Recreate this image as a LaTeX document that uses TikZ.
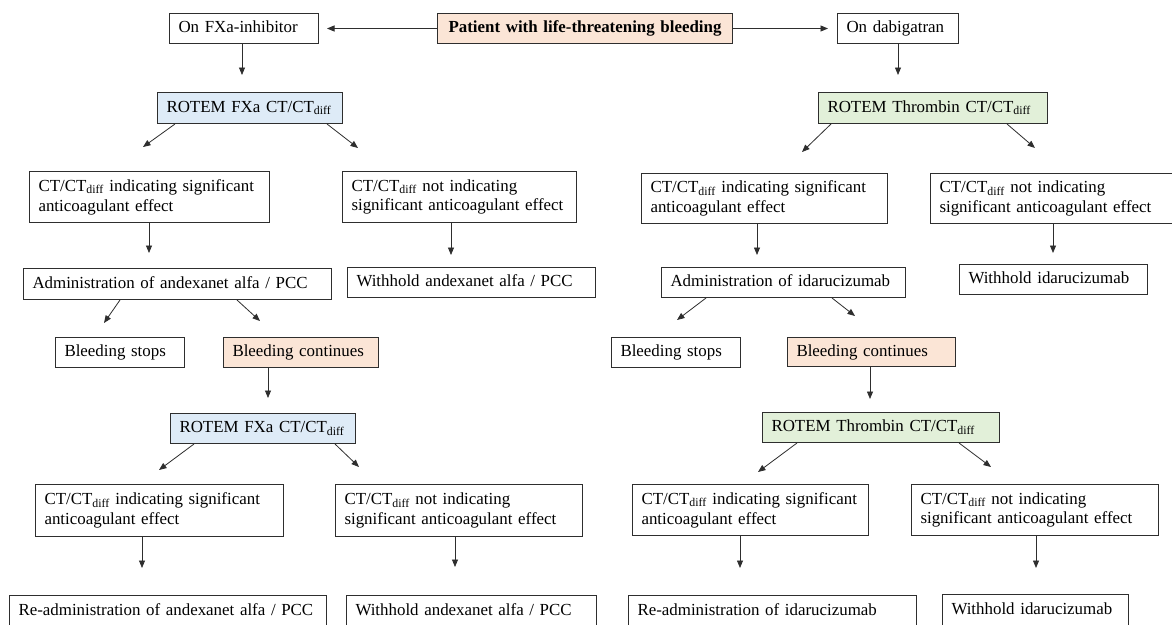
\documentclass[tikz,border=0pt]{standalone}
\usepackage{fontspec}
\setmainfont{Liberation Serif}
\usetikzlibrary{arrows.meta,calc}
\definecolor{peach}{HTML}{FBE5D6}
\definecolor{lblue}{HTML}{DEEBF7}
\definecolor{lgreen}{HTML}{E2F0D9}
\definecolor{edgec}{HTML}{2E2E2E}
\newcommand{\ctd}{CT/CT\textsubscript{diff}}
\begin{document}
\begin{tikzpicture}[x=1pt,y=-1pt,
  box/.style={draw=edgec, line width=1pt, anchor=north west, inner xsep=9pt, inner ysep=1pt, align=left, font=\fontsize{16.9}{19.8}\selectfont},
  one/.style={box, text height=12.5pt, text depth=4pt},
  two/.style={box},
  arr/.style={draw=edgec, line width=0.8pt, -{Triangle[length=7.5pt,width=6pt]}},
]
\path[fill=white] (0,0) rectangle (1172,624);
\clip (0,0) rectangle (1172,624);

% row 1
\node[one, fill=peach, text width=277pt, minimum height=30pt, align=center, font=\fontsize{16.9}{19.8}\selectfont\bfseries] (pat) at (437,13) {\mbox{Patient with life-threatening bleeding}};
\node[one, text width=131pt, minimum height=30pt] (onfxa) at (169,13) {\mbox{On FXa-inhibitor}};
\node[one, text width=103pt, minimum height=30pt] (ondab) at (837,13) {\mbox{On dabigatran}};

% row 2
\node[one, fill=lblue, text width=167pt, minimum height=31pt] (rf1) at (157,92) {\mbox{ROTEM FXa \ctd}};
\node[one, fill=lgreen, text width=211pt, minimum height=31pt] (rt1) at (818,92) {\mbox{ROTEM Thrombin \ctd}};

% row 3
\node[two, text width=222pt, minimum height=51pt] (li1) at (29,171) {\mbox{\ctd{} indicating significant}\\\mbox{anticoagulant effect}};
\node[two, text width=216pt, minimum height=51pt] (ln1) at (342,171) {\mbox{\ctd{} not indicating}\\\mbox{significant anticoagulant effect}};
\node[two, text width=228pt, minimum height=50pt] (ri1) at (641,173) {\mbox{\ctd{} indicating significant}\\\mbox{anticoagulant effect}};
\node[two, text width=223.5pt, minimum height=50pt] (rn1) at (930,173) {\mbox{\ctd{} not indicating}\\\mbox{significant anticoagulant effect}};

% row 4
\node[one, text width=290pt, minimum height=31pt] (la1) at (23,268) {\mbox{Administration of andexanet alfa / PCC}};
\node[one, text width=230pt, minimum height=30pt] (lw1) at (347,267) {\mbox{Withhold andexanet alfa / PCC}};
\node[one, text width=226pt, minimum height=30pt] (ra1) at (661,267) {\mbox{Administration of idarucizumab}};
\node[one, text width=170pt, minimum height=30pt] (rw1) at (959,264) {\mbox{Withhold idarucizumab}};

% row 5
\node[one, text width=111pt, minimum height=30pt] (lbs) at (55,337) {\mbox{Bleeding stops}};
\node[one, fill=peach, text width=137pt, minimum height=30pt] (lbc) at (223,337) {\mbox{Bleeding continues}};
\node[one, text width=111pt, minimum height=30pt] (rbs) at (611,337) {\mbox{Bleeding stops}};
\node[one, fill=peach, text width=150pt, minimum height=29pt] (rbc) at (787,337) {\mbox{Bleeding continues}};

% row 6
\node[one, fill=lblue, text width=167pt, minimum height=30pt] (rf2) at (170,413) {\mbox{ROTEM FXa \ctd}};
\node[one, fill=lgreen, text width=219pt, minimum height=30pt] (rt2) at (762,412) {\mbox{ROTEM Thrombin \ctd}};

% row 7
\node[two, text width=230pt, minimum height=52pt] (li2) at (35,484) {\mbox{\ctd{} indicating significant}\\\mbox{anticoagulant effect}};
\node[two, text width=229pt, minimum height=52pt] (ln2) at (335,484) {\mbox{\ctd{} not indicating}\\\mbox{significant anticoagulant effect}};
\node[two, text width=218pt, minimum height=51pt] (ri2) at (632,484) {\mbox{\ctd{} indicating significant}\\\mbox{anticoagulant effect}};
\node[two, text width=229pt, minimum height=51pt] (rn2) at (911,484) {\mbox{\ctd{} not indicating}\\\mbox{significant anticoagulant effect}};

% row 8 (cut by the lower edge)
\node[one, text width=299pt, minimum height=31pt] (lr) at (9,595) {\mbox{Re-administration of andexanet alfa / PCC}};
\node[one, text width=232pt, minimum height=31pt] (lw2) at (346,595) {\mbox{Withhold andexanet alfa / PCC}};
\node[one, text width=270pt, minimum height=31pt] (rr) at (628,595) {\mbox{Re-administration of idarucizumab}};
\node[one, text width=168pt, minimum height=31pt] (rw2) at (942,594) {\mbox{Withhold idarucizumab}};

% horizontal arrows
\draw[arr, shorten >=8pt] (pat.west) -- (onfxa.east);
\draw[arr, shorten >=9pt] (pat.east) -- (ondab.west);

% vertical arrows
\coordinate (v1) at (242,75);   \draw[arr] (onfxa.south -| v1) -- (v1);
\coordinate (v2) at (898,75);   \draw[arr] (ondab.south -| v2) -- (v2);
\coordinate (v3) at (149,253);  \draw[arr] (li1.south -| v3) -- (v3);
\coordinate (v4) at (451,255);  \draw[arr] (ln1.south -| v4) -- (v4);
\coordinate (v5) at (757,255);  \draw[arr] (ri1.south -| v5) -- (v5);
\coordinate (v6) at (1053,253); \draw[arr] (rn1.south -| v6) -- (v6);
\coordinate (v7) at (268,398);  \draw[arr] (lbc.south -| v7) -- (v7);
\coordinate (v8) at (870,399);  \draw[arr] (rbc.south -| v8) -- (v8);
\coordinate (v9) at (142,568);  \draw[arr] (li2.south -| v9) -- (v9);
\coordinate (v10) at (455,567); \draw[arr] (ln2.south -| v10) -- (v10);
\coordinate (v11) at (740,568); \draw[arr] (ri2.south -| v11) -- (v11);
\coordinate (v12) at (1036,568);\draw[arr] (rn2.south -| v12) -- (v12);

% diagonal arrows
\coordinate (s1) at (175,0);  \coordinate (d1) at (143,147); \draw[arr] (rf1.south -| s1) -- (d1);
\coordinate (s2) at (327,0);  \coordinate (d2) at (358,148); \draw[arr] (rf1.south -| s2) -- (d2);
\coordinate (s3) at (831,0);  \coordinate (d3) at (802,152); \draw[arr] (rt1.south -| s3) -- (d3);
\coordinate (s4) at (1007,0); \coordinate (d4) at (1035,148); \draw[arr] (rt1.south -| s4) -- (d4);
\coordinate (s5) at (120,0);  \coordinate (d5) at (104,323); \draw[arr] (la1.south -| s5) -- (d5);
\coordinate (s6) at (237,0);  \coordinate (d6) at (260,321); \draw[arr] (la1.south -| s6) -- (d6);
\coordinate (s7) at (706,0);  \coordinate (d7) at (677,320); \draw[arr] (ra1.south -| s7) -- (d7);
\coordinate (s8) at (832,0);  \coordinate (d8) at (855,316); \draw[arr] (ra1.south -| s8) -- (d8);
\coordinate (s9) at (194,0);  \coordinate (d9) at (159,470); \draw[arr] (rf2.south -| s9) -- (d9);
\coordinate (s10) at (335,0); \coordinate (d10) at (359,467); \draw[arr] (rf2.south -| s10) -- (d10);
\coordinate (s11) at (797,0); \coordinate (d11) at (758,472); \draw[arr] (rt2.south -| s11) -- (d11);
\coordinate (s12) at (959,0); \coordinate (d12) at (991,467); \draw[arr] (rt2.south -| s12) -- (d12);
\end{tikzpicture}
\end{document}
